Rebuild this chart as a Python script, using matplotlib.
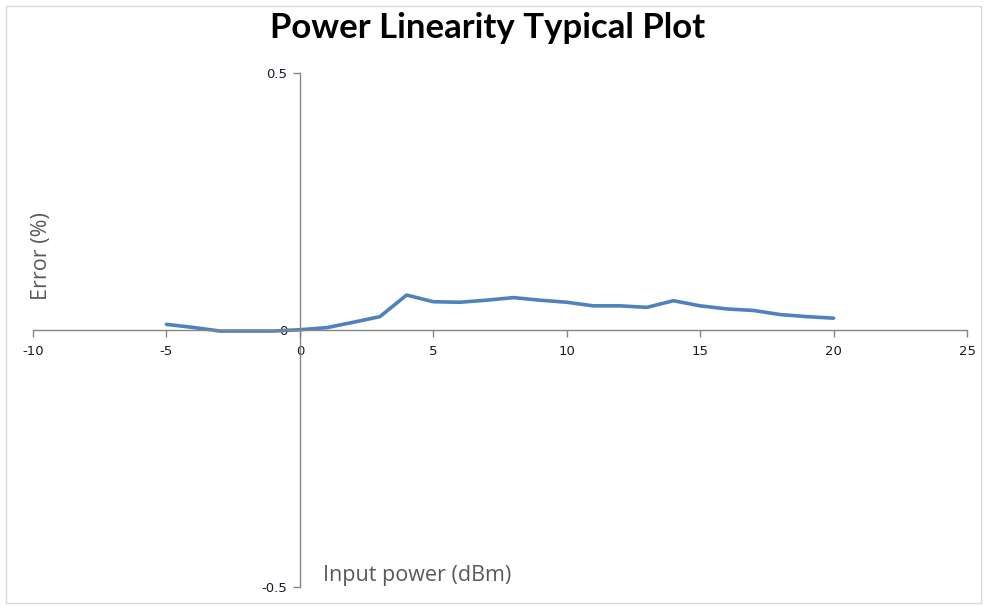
import matplotlib
matplotlib.use("Agg")
import matplotlib.pyplot as plt
from matplotlib.patches import Rectangle

x_power = [-5, -4, -3, -2, -1, 0, 1, 2, 3, 4, 5, 6, 7, 8, 9, 10, 11, 12, 13, 14, 15, 16, 17, 18, 19, 20]
error_pct = [0.011, 0.005, -0.002, -0.002, -0.002, 0.0005, 0.0045, 0.015, 0.026, 0.068, 0.055, 0.054,
             0.058, 0.063, 0.058, 0.054, 0.047, 0.047, 0.044, 0.057, 0.047, 0.041, 0.038, 0.030,
             0.026, 0.023]
x_ticks = [-10, -5, 0, 5, 10, 15, 20, 25]
y_ticks = [-0.5, 0, 0.5]

W, H = 985, 607
fig = plt.figure(figsize=(W / 100, H / 100), dpi=100)
fig.patches.append(Rectangle((6 / W, 4 / H), (W - 10) / W, (H - 10) / H, transform=fig.transFigure,
                             fill=False, edgecolor="#d9d9d9", linewidth=1))

left, right, top, bottom = 33, 967, 73, 587
ax = fig.add_axes([left / W, 1 - bottom / H, (right - left) / W, (bottom - top) / H])
ax.set_xlim(-10, 25)
ax.set_ylim(-0.5, 0.5)
ax.plot(x_power, error_pct, color="#4f81bd", linewidth=2.6, solid_capstyle="round")

for s in ["top", "right"]:
    ax.spines[s].set_visible(False)
ax.spines["left"].set_position(("data", 0))
ax.spines["bottom"].set_position(("data", 0))
for s in ["left", "bottom"]:
    ax.spines[s].set_color("#868686")
    ax.spines[s].set_linewidth(1)

ax.set_xticks(x_ticks)
ax.set_xticklabels([str(v) for v in x_ticks])
ax.set_yticks(y_ticks)
ax.set_yticklabels(["-0.5", "0", "0.5"])
ax.tick_params(axis="both", direction="out", length=5, color="#868686", labelsize=9.5,
               labelcolor="#1a1a2a", width=1)
ax.tick_params(axis="x", pad=6)
ax.tick_params(axis="y", pad=4)

fig.text(42 / W, 1 - 256 / H, "Error (%)", rotation=90, ha="center", va="center",
         fontsize=15.5, color="#595959", family="Open Sans")
fig.text(323 / W, 1 - 575 / H, "Input power (dBm)", ha="left", va="center",
         fontsize=15.5, color="#595959", family="Open Sans")
fig.text(488 / W, 1 - 28 / H, "Power Linearity Typical Plot", ha="center", va="center",
         fontsize=25, fontweight="bold", color="black", family="Lato")

fig.savefig("out.png", dpi=100)
